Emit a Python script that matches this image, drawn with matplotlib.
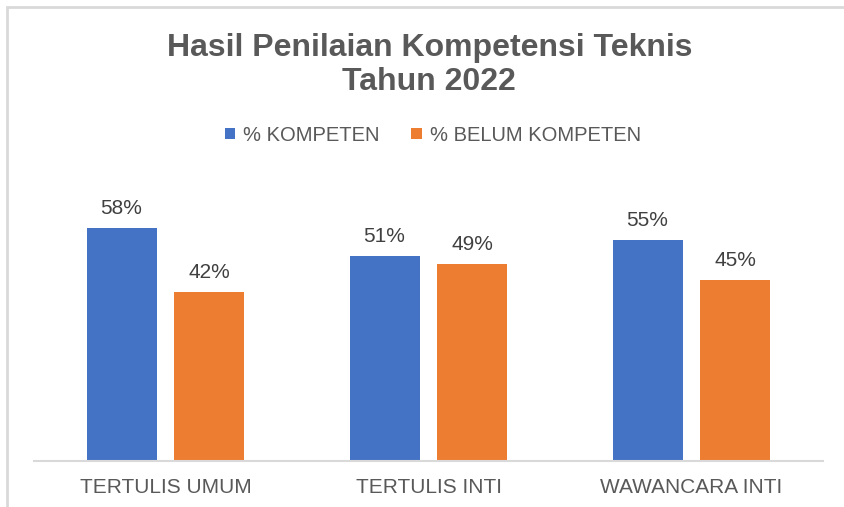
import numpy as np
import matplotlib
matplotlib.use("Agg")
import matplotlib.pyplot as plt
from matplotlib.patches import Rectangle

categories = ["TERTULIS UMUM", "TERTULIS INTI", "WAWANCARA INTI"]
kompeten = [58, 51, 55]
belum = [42, 49, 45]
series_names = ["% KOMPETEN", "% BELUM KOMPETEN"]

plt.rcParams['font.family'] = ['Liberation Sans', 'DejaVu Sans']

fig = plt.figure(figsize=(8.45, 5.07), dpi=100)
# outer frame like the Excel chart area
fig.patches.append(Rectangle((7 / 845, -0.05), 1.0, (507 - 7) / 507 + 0.05,
                             transform=fig.transFigure, fill=False,
                             edgecolor="#d9d9d9", linewidth=2))

ax = fig.add_axes([34 / 845, 46 / 507, 789 / 845, 281 / 507])
x = np.arange(len(categories))
w = 0.266
off = 0.167
b1 = ax.bar(x - off, kompeten, w, color="#4472C4", label=series_names[0])
b2 = ax.bar(x + off, belum, w, color="#ED7D31", label=series_names[1])

for bars, vals in ((b1, kompeten), (b2, belum)):
    for r, v in zip(bars, vals):
        ax.text(r.get_x() + r.get_width() / 2, v + 3.5, f"{v}%",
                ha="center", va="baseline", fontsize=15, color="#404040")

ax.set_xlim(-0.5, 2.5)
ax.set_ylim(0, 70)
ax.set_yticks([])
ax.set_xticks(x)
ax.set_xticklabels(categories, fontsize=15, color="#595959")
ax.tick_params(axis="x", length=0, pad=12)
for s in ["top", "right", "left"]:
    ax.spines[s].set_visible(False)
ax.spines["bottom"].set_color("#d9d9d9")
ax.spines["bottom"].set_linewidth(1.5)

fig.text(0.508, 0.905, "Hasil Penilaian Kompetensi Teknis", ha="center", va="center",
         fontsize=23, fontweight="bold", color="#595959")
fig.text(0.508, 0.838, "Tahun 2022", ha="center", va="center",
         fontsize=23, fontweight="bold", color="#595959")

fig.legend(handles=[b1, b2], loc="center", bbox_to_anchor=(0.512, 0.733), ncol=2,
           frameon=False, fontsize=14.5, labelcolor="#595959",
           handlelength=0.5, handleheight=0.5, handletextpad=0.4, columnspacing=1.6)

fig.savefig("out.png", dpi=100)
